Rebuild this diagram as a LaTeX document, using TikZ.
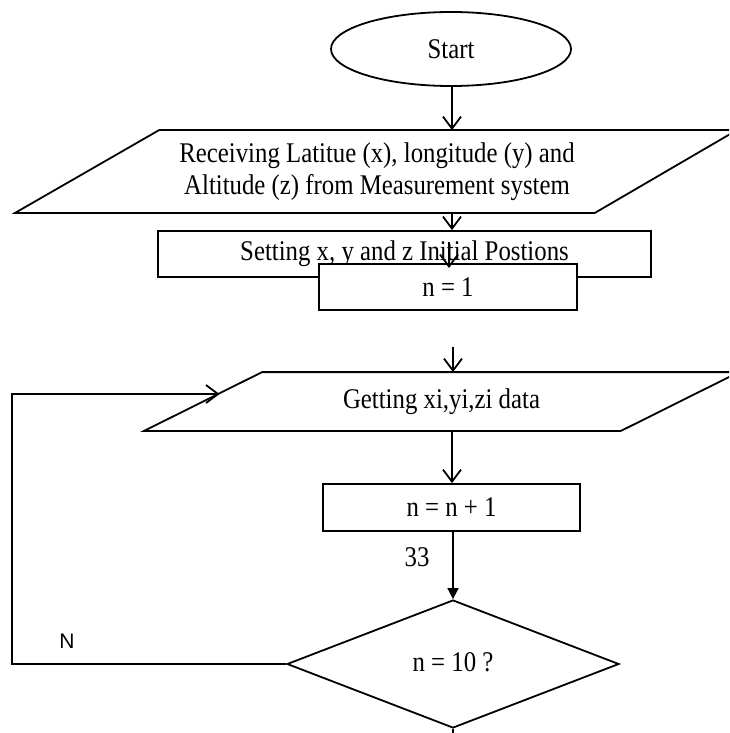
\documentclass[tikz,border=0pt]{standalone}
\usepackage{fontspec}
\setmainfont{Liberation Serif}[FakeStretch=0.87]
\newfontfamily\labelsans{Liberation Sans}
\usetikzlibrary{shapes.geometric,arrows.meta,calc}
\begin{document}
\begin{tikzpicture}[x=1pt,y=-1pt,
  line width=1.8pt,
  every node/.style={font=\fontsize{28.5}{33.5}\selectfont, inner sep=0pt},
  terminal/.style={ellipse, draw, minimum width=240pt, minimum height=74pt},
  iobody/.style={draw=none, align=center},
  procbox/.style={rectangle, draw, fill=white},
  decision/.style={diamond, draw, aspect=2.6, minimum width=332pt, minimum height=128pt},
  openarrow/.style={-{Straight Barb[length=12pt,width=18pt]}},
  fillarrow/.style={-{Triangle[length=11pt,width=11pt]}},
  sanslabel/.style={font=\labelsans\fontsize{21}{25}\selectfont}
]
\useasboundingbox (0,0) rectangle (729,733);
\clip (0,0) rectangle (729,733);

\coordinate (spine) at (452,0);
\coordinate (fbx) at (12,0);

% Start
\node[terminal] (start) at (451,49) {Start};

% Input parallelogram 1
\node[iobody, minimum width=434pt, minimum height=81pt] (recv) at (377,171.5)
  {\raisebox{-2pt}{Receiving Latitue (x), longitude (y) and}\\Altitude (z) from Measurement system};
\draw (recv.north west) -- ([xshift=142pt]recv.north east) -- (recv.south east)
  -- ([xshift=-144pt]recv.south west) -- cycle;

% Setting box and n = 1 box
\node[procbox, minimum width=493pt, minimum height=46pt] (set) at (404.5,254)
  {Setting x, y and z Initial Postions};
\node[procbox, minimum width=258pt, minimum height=46pt] (n1) at (448,287) {n = 1};

% Input parallelogram 2
\node[iobody, minimum width=357pt, minimum height=57pt] (get) at (441.5,401.5)
  {Getting xi,yi,zi data};
\draw (get.north west) -- ([xshift=118pt]get.north east) -- (get.south east)
  -- ([xshift=-118pt]get.south west) -- cycle;

% n = n + 1
\node[procbox, minimum width=257pt, minimum height=47pt] (inc) at (451.5,507.5) {n = n + 1};

% decision
\node[decision] (dec) at (453,664) {\raisebox{3pt}{n = 10 ?}};

% labels
\node (l33) at (417,557) {33};
\node[sanslabel] (lN) at (67,641) {N};

% connectors
\draw[openarrow] (start.south -| spine) -- (recv.north -| spine);
\draw[openarrow] (recv.south -| spine) -- (set.north -| spine);
\coordinate (ia1) at (449,242);
\coordinate (ia2) at (449,268);
\draw[openarrow] (ia1) -- (ia2);
\coordinate (a3) at (453,347);
\draw[openarrow] (a3) -- (get.north -| a3);
\draw[openarrow] (get.south -| spine) -- (inc.north -| spine);
\draw[fillarrow] (inc.south -| dec.north) -- (dec.north);
\coordinate (fbin) at (219.5,394);
\draw[openarrow] (dec.west) -- (dec.west -| fbx) |- (fbin);
\draw (dec.south) -- ++(0,12);
\end{tikzpicture}
\end{document}
